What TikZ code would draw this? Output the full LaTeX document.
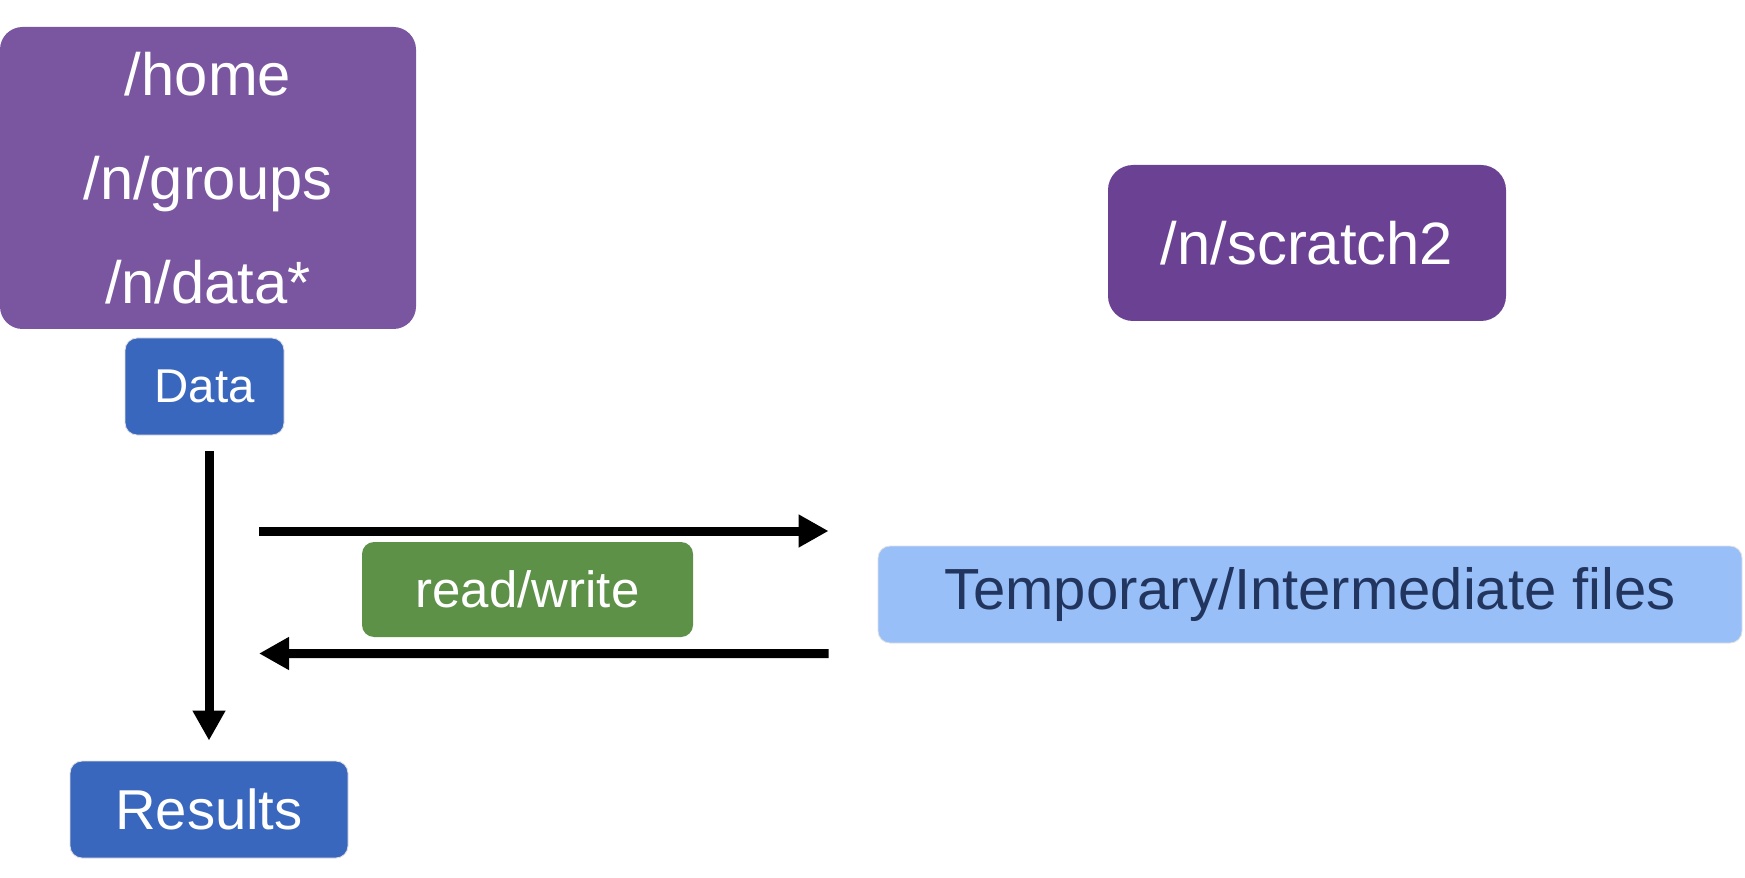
\documentclass[tikz,border=0pt]{standalone}
\usepackage{fontspec}
\setsansfont{Liberation Sans}
\usetikzlibrary{arrows.meta, positioning}
\definecolor{homepurple}{HTML}{7A55A0}
\definecolor{scratchpurple}{HTML}{6B4193}
\definecolor{fileblue}{HTML}{3A67BE}
\definecolor{rwgreen}{HTML}{5E9148}
\definecolor{tmpblue}{HTML}{98BFF8}
\definecolor{navy}{HTML}{22355E}

\begin{document}
\begin{tikzpicture}[
    arr/.style={-{Triangle[length=0.6cm, width=0.62cm]}, line width=0.18cm, black},
    every node/.style={font=\sffamily},
    % Storage area box
    store/.style={rectangle, rounded corners=0.45cm, text=white, align=center, inner sep=0pt},
    % Small label box
    tag/.style={rectangle, rounded corners=0.24cm, draw=black!12, line width=0.5pt,
                text=white, minimum height=1.94cm, inner sep=0pt}
]
\useasboundingbox (0,0) rectangle (34.9,17.54);

% ---------- Storage areas ----------
\node[store, fill=homepurple, minimum width=8.32cm, minimum height=6.04cm,
      font=\sffamily\fontsize{34}{59}\selectfont] at (4.16, 13.98) (home)
      {/home\\/n/groups\\/n/data*};
\node[store, fill=scratchpurple, minimum width=7.96cm, minimum height=3.12cm,
      rounded corners=0.5cm, font=\sffamily\fontsize{34}{40}\selectfont] at (26.14, 12.68) (scratch)
      {/n/scratch2};

% ---------- Data / results ----------
\node[tag, fill=fileblue, minimum width=3.18cm, font=\sffamily\fontsize{27}{32}\selectfont] at (4.09, 9.81) (data) {Data};
\node[tag, fill=fileblue, minimum width=5.56cm, font=\sffamily\fontsize{32}{38}\selectfont] at (4.18, 1.35) (results) {Results};

% ---------- Read/write and temporary files ----------
\node[tag, fill=rwgreen, draw=none, minimum width=6.62cm, minimum height=1.9cm,
      font=\sffamily\fontsize{29}{34}\selectfont] at (10.55, 5.75) (rw) {read/write};
\node[tag, fill=tmpblue, text=navy, minimum width=17.28cm,
      font=\sffamily\fontsize{33}{40}\selectfont] at (26.2, 5.65) (tmp) {Temporary/Intermediate files};

% ---------- Arrows ----------
\draw[arr, shorten <=0.32cm, shorten >=0.4cm] (data.south -| results.north) -- (results.north);

\coordinate (wtail) at (5.18, 6.92);
\coordinate (whead) at ([xshift=-0.98cm, yshift=1.27cm]tmp.west);
\draw[arr] (wtail) -- (whead);

\coordinate (rtail) at ([xshift=-0.98cm, yshift=-1.18cm]tmp.west);
\coordinate (rhead) at (5.18, 4.47);
\draw[arr] (rtail) -- (rhead);

\end{tikzpicture}
\end{document}
